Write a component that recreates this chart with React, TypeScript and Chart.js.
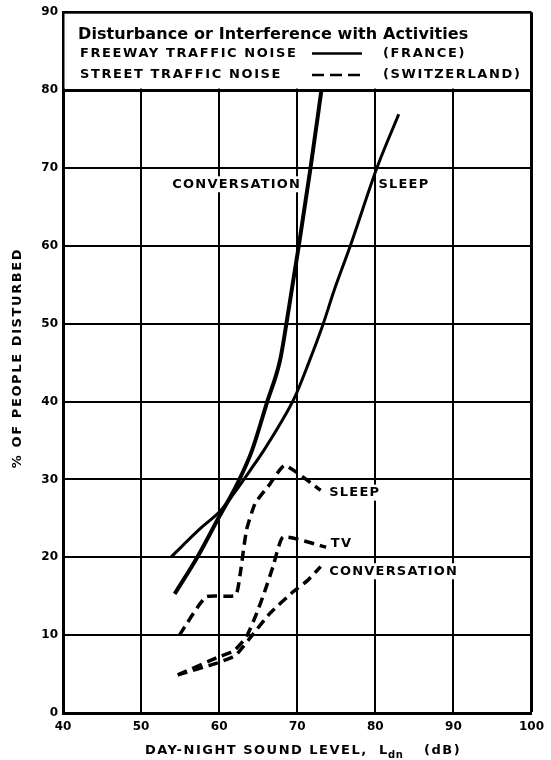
import React, { useEffect, useRef } from 'react';
import { Chart, registerables } from 'chart.js';
Chart.register(...registerables);

// Axis ticks
const xTickValues = [40, 50, 60, 70, 80, 90, 100];
const yTickValues = [0, 10, 20, 30, 40, 50, 60, 70, 80, 90];

// Freeway traffic noise (France) - solid
const freewayConvX = [54.3, 57.2, 60.0, 62.3, 64.2, 66.1, 67.8, 68.6, 69.4, 70.2, 71.7, 73.1];
const freewayConvY = [15.3, 20.0, 25.2, 29.4, 33.7, 39.8, 45.3, 49.9, 55.0, 60.0, 70.0, 80.0];
const freewaySleepX = [53.8, 57.6, 60.2, 61.9, 64.0, 65.7, 67.8, 69.7, 71.4, 73.3, 74.7, 76.8, 80.2, 83.0];
const freewaySleepY = [20.0, 23.7, 26.0, 28.2, 31.2, 33.7, 37.1, 40.6, 44.8, 49.9, 54.2, 60.0, 70.0, 76.9];

// Street traffic noise (Switzerland) - dashed
const streetSleepX = [54.9, 58.3, 62.1, 62.7, 63.5, 64.6, 66.5, 68.4, 73.0];
const streetSleepY = [10.0, 14.9, 15.1, 17.9, 23.5, 26.9, 29.4, 31.8, 28.6];
const streetTvX = [54.7, 59.7, 61.9, 63.5, 64.8, 65.8, 66.9, 68.2, 73.7];
const streetTvY = [4.9, 7.1, 8.0, 9.8, 12.8, 15.5, 18.8, 22.6, 21.3];
const streetConvX = [54.7, 59.7, 62.1, 64.4, 66.5, 69.5, 71.3, 73.0];
const streetConvY = [4.9, 6.4, 7.4, 10.2, 12.8, 15.6, 17.0, 18.8];

// Curve labels: [text, x value, y value]
const curveLabels: [string, number, number][] = [
  ['CONVERSATION', 54.0, 67.9],
  ['SLEEP', 80.4, 67.9],
  ['SLEEP', 74.1, 28.3],
  ['TV', 74.3, 21.7],
  ['CONVERSATION', 74.1, 18.2],
];

const legendTitle = 'Disturbance or Interference with Activities';
const legendRows = [
  ['FREEWAY TRAFFIC NOISE', '(FRANCE)'],
  ['STREET TRAFFIC NOISE', '(SWITZERLAND)'],
];
const xTitle = ['DAY-NIGHT SOUND LEVEL,', 'L', 'dn', '(dB)'];
const yTitle = '% OF PEOPLE DISTURBED';

const FONT = '"DejaVu Sans", sans-serif';

const pts = (xs: number[], ys: number[]) => xs.map((x, i) => ({ x, y: ys[i] }));

export default function App() {
  const ref = useRef<HTMLCanvasElement>(null);
  useEffect(() => {
    const canvas = ref.current!;
    const overlay = {
      id: 'overlay',
      beforeDatasetsDraw(chart: any) {
        const ctx = chart.ctx as CanvasRenderingContext2D;
        const { left, right, top } = chart.chartArea;
        const y80 = chart.scales.y.getPixelForValue(80);
        ctx.save();
        ctx.fillStyle = '#fff';
        ctx.fillRect(left + 1.5, top + 1.5, right - left - 3, y80 - top - 3);
        ctx.restore();
      },
      afterDraw(chart: any) {
        const ctx = chart.ctx as CanvasRenderingContext2D;
        const xs = chart.scales.x;
        const ys = chart.scales.y;
        ctx.save();
        ctx.fillStyle = '#000';
        ctx.strokeStyle = '#000';
        // Legend
        ctx.textBaseline = 'alphabetic';
        ctx.textAlign = 'left';
        ctx.font = `bold 16px ${FONT}`;
        (ctx as any).letterSpacing = '0.1px';
        ctx.fillText(legendTitle, 78, 39);
        ctx.font = `bold 13px ${FONT}`;
        (ctx as any).letterSpacing = '1.6px';
        ctx.textBaseline = 'middle';
        const rowY = [53.5, 75];
        legendRows.forEach((r, i) => {
          ctx.fillText(r[0], 80, rowY[i]);
          ctx.fillText(r[1], 383, rowY[i]);
          ctx.beginPath();
          ctx.lineWidth = 2.5;
          ctx.setLineDash(i === 0 ? [] : [12, 6]);
          ctx.moveTo(312, rowY[i]);
          ctx.lineTo(362, rowY[i]);
          ctx.stroke();
        });
        ctx.setLineDash([]);
        // Curve labels
        ctx.font = `bold 13px ${FONT}`;
        (ctx as any).letterSpacing = '1.2px';
        curveLabels.forEach(([t, vx, vy]) => {
          const px = xs.getPixelForValue(vx);
          const py = ys.getPixelForValue(vy);
          const w = ctx.measureText(t).width;
          ctx.fillStyle = '#fff';
          ctx.fillRect(px - 2, py - 8, w + 3, 16);
          ctx.fillStyle = '#000';
          ctx.fillText(t, px, py);
        });
        // X title
        ctx.textBaseline = 'alphabetic';
        ctx.font = `bold 13px ${FONT}`;
        (ctx as any).letterSpacing = '1.5px';
        const by = 754;
        ctx.fillText(xTitle[0], 145, by);
        ctx.fillText(xTitle[1], 379, by);
        ctx.font = `bold 10px ${FONT}`;
        (ctx as any).letterSpacing = '0.5px';
        ctx.fillText(xTitle[2], 388, by + 4);
        ctx.font = `bold 13px ${FONT}`;
        (ctx as any).letterSpacing = '1.5px';
        ctx.fillText(xTitle[3], 424, by);
        // Y title
        ctx.translate(18, 358);
        ctx.rotate(-Math.PI / 2);
        ctx.textAlign = 'center';
        ctx.textBaseline = 'middle';
        ctx.font = `bold 13px ${FONT}`;
        (ctx as any).letterSpacing = '1.6px';
        ctx.fillText(yTitle, 0, 0);
        ctx.restore();
      },
    };

    const solid = (data: any[], w: number) => ({
      data,
      borderColor: '#000',
      borderWidth: w,
      pointRadius: 0,
      cubicInterpolationMode: 'monotone' as const,
      fill: false,
    });
    const dashed = (data: any[]) => ({
      data,
      borderColor: '#000',
      borderWidth: 3.5,
      borderDash: [10, 6],
      pointRadius: 0,
      tension: 0.15,
      fill: false,
    });

    const chart = new Chart(canvas, {
      type: 'line',
      data: {
        datasets: [
          solid(pts(freewayConvX, freewayConvY), 4),
          solid(pts(freewaySleepX, freewaySleepY), 3),
          dashed(pts(streetSleepX, streetSleepY)),
          dashed(pts(streetTvX, streetTvY)),
          dashed(pts(streetConvX, streetConvY)),
        ],
      },
      options: {
        animation: false,
        responsive: true,
        maintainAspectRatio: false,
        layout: { padding: { top: 11, right: 15, left: 0, bottom: 0 } },
        plugins: { legend: { display: false }, tooltip: { enabled: false } },
        scales: {
          x: {
            type: 'linear',
            min: xTickValues[0],
            max: xTickValues[xTickValues.length - 1],
            afterBuildTicks: (s: any) => { s.ticks = xTickValues.map((v) => ({ value: v })); },
            afterFit: (s: any) => { s.height = 47; },
            ticks: { color: '#000', font: { family: FONT, weight: 'bold', size: 12 }, padding: 7, maxRotation: 0 },
            grid: {
              color: '#000',
              drawTicks: false,
              lineWidth: (c: any) => (c.tick && c.tick.value === 100 ? 3 : 2),
            },
            border: { color: '#000', width: 3 },
          },
          y: {
            type: 'linear',
            min: yTickValues[0],
            max: yTickValues[yTickValues.length - 1],
            afterBuildTicks: (s: any) => { s.ticks = yTickValues.map((v) => ({ value: v })); },
            afterFit: (s: any) => { s.width = 63; },
            ticks: { color: '#000', font: { family: FONT, weight: 'bold', size: 12 }, padding: 5 },
            grid: {
              color: '#000',
              drawTicks: false,
              lineWidth: (c: any) => (c.tick && (c.tick.value === 90 || c.tick.value === 80) ? 3 : 2),
            },
            border: { color: '#000', width: 3 },
          },
        },
      },
      plugins: [overlay],
    });
    return () => chart.destroy();
  }, []);
  return (
    <div style={{ position: 'fixed', left: 0, top: 0, width: 551, height: 760, background: '#fff' }}>
      <canvas ref={ref} />
    </div>
  );
}
